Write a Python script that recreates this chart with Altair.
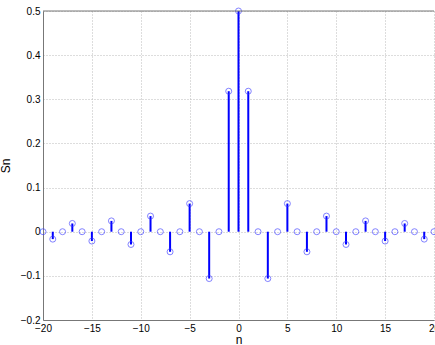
import altair as alt
import pandas as pd

n_values = list(range(-20, 21))
sn_values = [
    0.0, -0.0168, 0.0, 0.0187, 0.0, -0.0212, 0.0, 0.0245, 0.0, -0.0289,
    0.0, 0.0354, 0.0, -0.0455, 0.0, 0.0637, 0.0, -0.1061, 0.0, 0.3183,
    0.5,
    0.3183, 0.0, -0.1061, 0.0, 0.0637, 0.0, -0.0455, 0.0, 0.0354, 0.0,
    -0.0289, 0.0, 0.0245, 0.0, -0.0212, 0.0, 0.0187, 0.0, -0.0168, 0.0,
]
x_ticks = [-20, -15, -10, -5, 0, 5, 10, 15, 20]
y_ticks = [-0.2, -0.1, 0, 0.1, 0.2, 0.3, 0.4, 0.5]

df = pd.DataFrame({"n": n_values, "Sn": sn_values, "zero": [0.0] * len(n_values)})

W, H = 391, 309
FONT = "Liberation Sans"

xscale = alt.Scale(domain=[-20, 20], nice=False, zero=False)
yscale = alt.Scale(domain=[-0.2, 0.5], nice=False, zero=False)

xaxis = alt.Axis(values=x_ticks, title="n", grid=True, gridDash=[1, 2], gridColor="#bbbbbb",
                 ticks=False, labelPadding=3, domainColor="#777777", titlePadding=1,
                 labelFontSize=10, titleFontSize=12, labelFont=FONT, titleFont=FONT,
                 labelColor="#000", titleColor="#000", titleFontWeight="normal",
                 labelFlush=False)
yaxis = alt.Axis(values=y_ticks, title="Sn", grid=True, gridDash=[1, 2], gridColor="#bbbbbb",
                 ticks=False, labelPadding=3, domainColor="#777777", titlePadding=8,
                 labelFontSize=10, titleFontSize=12, labelFont=FONT, titleFont=FONT,
                 labelColor="#000", titleColor="#000", titleFontWeight="normal",
                 format="~g", labelFlush=False)

base = alt.Chart(df)

stems = base.mark_rule(color="#0000ff", strokeWidth=2).encode(
    x=alt.X("n:Q", scale=xscale, axis=xaxis),
    y=alt.Y("zero:Q", scale=yscale, axis=yaxis),
    y2="Sn:Q",
)

points = base.mark_point(shape="circle", size=36, color="#3a3aff", strokeWidth=0.9, filled=False).encode(
    x=alt.X("n:Q", scale=xscale),
    y=alt.Y("Sn:Q", scale=yscale),
)

top = alt.Chart(pd.DataFrame({"a": [0]})).mark_rule(color="#777777", strokeWidth=1).encode(
    x=alt.value(0), x2=alt.value(W), y=alt.value(0)
)

chart = alt.layer(stems, points, top).properties(
    width=W, height=H,
    padding={"left": 43, "top": 11, "right": 1, "bottom": 25},
    autosize=alt.AutoSizeParams(type="none"),
    background="white",
).configure_view(stroke=None)

chart.save("out.html", embed_options={"renderer": "svg", "actions": False})
